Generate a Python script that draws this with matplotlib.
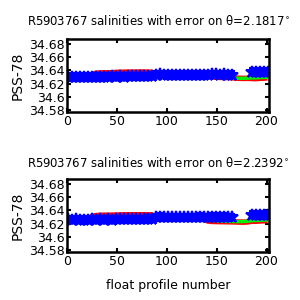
import numpy as np
import matplotlib
matplotlib.use('Agg')
import matplotlib.pyplot as plt

# profile numbers (every 4th profile)
profiles = np.arange(1, 202, 4)

nan = np.nan

# top panel, theta = 2.1817
blue_top = [34.6300, 34.6304, 34.6296, 34.6303, 34.6297, 34.6305, 34.6299, 34.6306,
            34.6300, 34.6307, 34.6302, 34.6308, 34.6305, 34.6311, 34.6306, 34.6313,
            34.6308, 34.6315, 34.6310, 34.6316, 34.6313, 34.6318, 34.6334, 34.6338,
            34.6329, 34.6336, 34.6328, 34.6335, 34.6327, 34.6333, 34.6336, 34.6329,
            34.6334, 34.6337, 34.6330, 34.6335, 34.6338, 34.6340, 34.6335, 34.6341,
            34.6336, 34.6335, nan, nan, nan, nan,
            34.6380, 34.6373, 34.6379, 34.6374, 34.6381]
red_top = [34.6300, 34.6301, 34.6302, 34.6303, 34.6305, 34.6308, 34.6340, 34.6357,
           34.6361, 34.6363, 34.6362, 34.6364, 34.6369, 34.6371, 34.6372, 34.6373,
           34.6374, 34.6373, 34.6375, 34.6374, 34.6373, 34.6371, 34.6333, 34.6332,
           34.6331, 34.6332, 34.6330, 34.6331, 34.6332, 34.6331, 34.6332, 34.6330,
           34.6331, 34.6330, 34.6325, 34.6312, 34.6302, 34.6296, 34.6294, 34.6292,
           34.6291, 34.6290, 34.6283, 34.6280, 34.6278, 34.6280, 34.6277, 34.6275,
           34.6280, 34.6282, 34.6287]
green_top = [34.6305, 34.6305, 34.6306, 34.6306, 34.6307, 34.6307, 34.6308, 34.6308,
             34.6309, 34.6309, 34.6310, 34.6310, 34.6311, 34.6311, 34.6312, 34.6312,
             34.6313, 34.6313, 34.6314, 34.6314, 34.6315, 34.6315, 34.6320, 34.6320,
             34.6320, 34.6320, 34.6320, 34.6320, 34.6320, 34.6320, 34.6320, 34.6320,
             34.6320, 34.6320, 34.6318, 34.6315, 34.6310, 34.6305, 34.6300, 34.6295,
             34.6290, 34.6285, 34.6280, 34.6280, 34.6280, 34.6282, 34.6285, 34.6287,
             34.6290, 34.6292, 34.6295]

# bottom panel, theta = 2.2392
blue_bot = [34.6262, 34.6257, 34.6264, 34.6256, 34.6261, 34.6255, 34.6263, 34.6258,
            34.6265, 34.6259, 34.6266, 34.6260, 34.6267, 34.6263, 34.6268, 34.6264,
            34.6270, 34.6265, 34.6272, 34.6268, 34.6274, 34.6276, 34.6300, 34.6303,
            34.6294, 34.6301, 34.6293, 34.6300, 34.6295, 34.6302, 34.6297, 34.6294,
            34.6301, 34.6303, 34.6296, 34.6302, 34.6304, 34.6306, 34.6299, 34.6305,
            34.6300, 34.6298, nan, nan, nan, nan,
            34.6334, 34.6327, 34.6335, 34.6328, 34.6336]
red_bot = [34.6260, 34.6261, 34.6262, 34.6264, 34.6266, 34.6270, 34.6310, 34.6321,
           34.6325, 34.6327, 34.6326, 34.6328, 34.6329, 34.6331, 34.6332, 34.6333,
           34.6333, 34.6334, 34.6333, 34.6334, 34.6333, 34.6331, 34.6296, 34.6295,
           34.6294, 34.6295, 34.6293, 34.6294, 34.6295, 34.6294, 34.6293, 34.6292,
           34.6290, 34.6283, 34.6265, 34.6240, 34.6233, 34.6231, 34.6230, 34.6229,
           34.6228, 34.6227, 34.6225, 34.6223, 34.6222, 34.6225, 34.6237, 34.6235,
           34.6240, 34.6242, 34.6247]
green_bot = [34.6270, 34.6270, 34.6271, 34.6271, 34.6272, 34.6272, 34.6273, 34.6273,
             34.6274, 34.6274, 34.6275, 34.6275, 34.6276, 34.6276, 34.6277, 34.6277,
             34.6278, 34.6278, 34.6279, 34.6279, 34.6280, 34.6280, 34.6285, 34.6285,
             34.6285, 34.6285, 34.6285, 34.6285, 34.6285, 34.6285, 34.6285, 34.6285,
             34.6284, 34.6282, 34.6275, 34.6262, 34.6252, 34.6245, 34.6240, 34.6236,
             34.6233, 34.6232, 34.6230, 34.6230, 34.6232, 34.6235, 34.6245, 34.6247,
             34.6250, 34.6252, 34.6255]

sal_err = 0.005

thetas = ['2.1817', '2.2392']
yticks = [34.58, 34.60, 34.62, 34.64, 34.66, 34.68]
ytick_labels = ['34.58', '34.6', '34.62', '34.64', '34.66', '34.68']
xticks = [0, 50, 100, 150, 200]

plt.rcParams['font.family'] = 'DejaVu Sans'

fig = plt.figure(figsize=(3, 3), dpi=100)
panels = [(0.6267, 0.93, blue_top, red_top, green_top),
          (0.16, 0.457, blue_bot, red_bot, green_bot)]

for k, (bottom, ty, blue, red, green) in enumerate(panels):
    ax = fig.add_axes([0.2243, bottom, 0.6707, 0.2423])
    ax.plot(profiles, red, color='r', lw=4, solid_capstyle='butt')
    ax.plot(profiles, green, color='#00ee00', lw=2.5, solid_capstyle='butt')
    ax.errorbar(profiles, blue, yerr=sal_err, fmt='*', color='b', ms=9, mew=1.5,
                elinewidth=3, capsize=2.5, capthick=2)
    ax.set_xlim(0, 202)
    ax.set_ylim(34.577, 34.687)
    ax.set_yticks(yticks)
    ax.set_yticklabels(ytick_labels)
    ax.set_xticks(xticks)
    ax.tick_params(direction='in', length=3, width=1.5, top=True, right=True,
                   labelsize=9, pad=2)
    for s in ax.spines.values():
        s.set_linewidth(1.8)
    ax.set_ylabel('PSS-78', fontsize=10, labelpad=3)
    # title placed by hand: it is not centred on the axes in the original
    fig.text(0.527, ty, 'R5903767 salinities with error on \u03b8=' + thetas[k] + r'$^{\circ}$',
             fontsize=8.5, ha='center', va='center')
    if k == 1:
        ax.set_xlabel('float profile number', fontsize=9, labelpad=8)

fig.savefig('out.png', dpi=100)
